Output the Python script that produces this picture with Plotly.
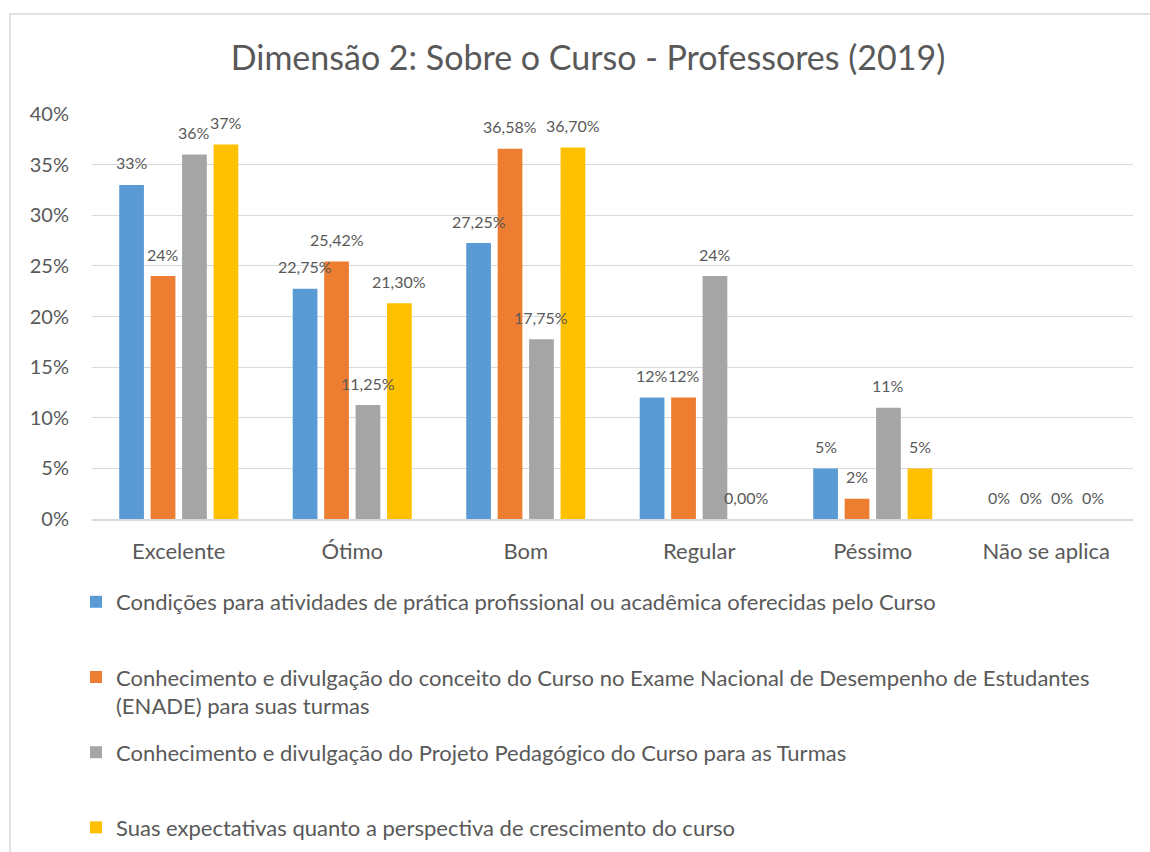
import plotly.graph_objects as go

categories = ["Excelente", "Ótimo", "Bom", "Regular", "Péssimo", "Não se aplica"]

series_names = [
    "Condições para atividades de prática profissional ou acadêmica oferecidas pelo Curso",
    "Conhecimento e divulgação do conceito do Curso no Exame Nacional de Desempenho de Estudantes<br>(ENADE) para suas turmas",
    "Conhecimento e divulgação do Projeto Pedagógico do Curso para as Turmas",
    "Suas expectativas quanto a perspectiva de crescimento do curso",
]

condicoes = [0.33, 0.2275, 0.2725, 0.12, 0.05, 0.0]
enade = [0.24, 0.2542, 0.3658, 0.12, 0.02, 0.0]
projeto = [0.36, 0.1125, 0.1775, 0.24, 0.11, 0.0]
expectativas = [0.37, 0.2130, 0.3670, 0.0, 0.05, 0.0]

condicoes_labels = ["33%", "22,75%", "27,25%", "12%", "5%", "0%"]
enade_labels = ["24%", "25,42%", "36,58%", "12%", "2%", "0%"]
projeto_labels = ["36%", "11,25%", "17,75%", "24%", "11%", "0%"]
expectativas_labels = ["37%", "21,30%", "36,70%", "0,00%", "5%", "0%"]

y_ticks = [0, 0.05, 0.10, 0.15, 0.20, 0.25, 0.30, 0.35, 0.40]
y_tick_labels = ["0%", "5%", "10%", "15%", "20%", "25%", "30%", "35%", "40%"]

colors = ["#5B9BD5", "#ED7D31", "#A5A5A5", "#FFC000"]
text_color = "#595959"
grid_color = "#D9D9D9"
FONT = "Lato"

W, H = 1150, 852
ML, MR, MT, MB = 92, 17, 114, 333
PW = W - ML - MR
PH = H - MT - MB
BARGAP = 0.275
BARGROUPGAP = 0.214

all_values = [condicoes, enade, projeto, expectativas]
all_labels = [condicoes_labels, enade_labels, projeto_labels, expectativas_labels]

fig = go.Figure()
for j, (name, vals, col) in enumerate(zip(series_names, all_values, colors)):
    disp_name = name if "<br>" in name else name + "<br> "
    fig.add_trace(go.Bar(
        x=categories, y=vals, name=disp_name, marker=dict(color=col, line=dict(width=0)),
        legendgroup=f"g{j}", hoverinfo="skip",
    ))

n = len(all_values)
slot = (1 - BARGAP) / n
annotations = []
for j, (vals, labs) in enumerate(zip(all_values, all_labels)):
    for i, (v, lab) in enumerate(zip(vals, labs)):
        annotations.append(dict(
            x=i + (j - (n - 1) / 2) * slot, y=v, xref="x", yref="y",
            text=lab, showarrow=False, yanchor="middle", xanchor="center", yshift=22,
            font=dict(family=FONT, size=16, color=text_color),
        ))

fig.update_layout(
    width=W, height=H,
    margin=dict(l=ML, r=MR, t=MT, b=MB, autoexpand=False),
    paper_bgcolor="white", plot_bgcolor="white",
    barmode="group", bargap=BARGAP, bargroupgap=BARGROUPGAP,
    title=dict(text="Dimensão 2: Sobre o Curso - Professores (2019)",
               font=dict(family=FONT, size=34, color=text_color),
               x=588 / W, xanchor="center", xref="container",
               y=1 - 58 / H, yanchor="middle", yref="container"),
    font=dict(family=FONT, color=text_color),
    showlegend=True,
    legend=dict(
        orientation="v", x=(76 - ML) / PW, xanchor="left", xref="paper",
        y=(MT + PH - 581) / PH, yanchor="top", yref="paper",
        font=dict(family=FONT, size=22, color=text_color),
        traceorder="grouped", tracegroupgap=15, valign="top",
        bgcolor="rgba(0,0,0,0)", borderwidth=0,
    ),
    annotations=annotations,
    shapes=[dict(type="rect", xref="paper", yref="paper",
                 x0=(10 - ML) / PW, x1=(1170 - ML) / PW,
                 y0=(MT + PH - 880) / PH, y1=(MT + PH - 14) / PH,
                 line=dict(color=grid_color, width=1.5), fillcolor="rgba(0,0,0,0)",
                 layer="below")],
)

fig.update_yaxes(
    range=[0, 0.40], tickvals=y_ticks, ticktext=y_tick_labels,
    showgrid=True, gridcolor=grid_color, gridwidth=1,
    zeroline=False, showline=False, ticks="", ticklabelstandoff=22,
    tickfont=dict(family=FONT, size=20, color=text_color),
)
fig.update_xaxes(
    showgrid=False, showline=True, linecolor=grid_color, linewidth=1.5,
    ticks="", ticklabelstandoff=12,
    tickfont=dict(family=FONT, size=22, color=text_color),
)

fig.write_html(
    "out.html",
    config={"displayModeBar": False},
    post_script="document.body.style.margin='0';document.body.style.overflow='hidden';",
)
